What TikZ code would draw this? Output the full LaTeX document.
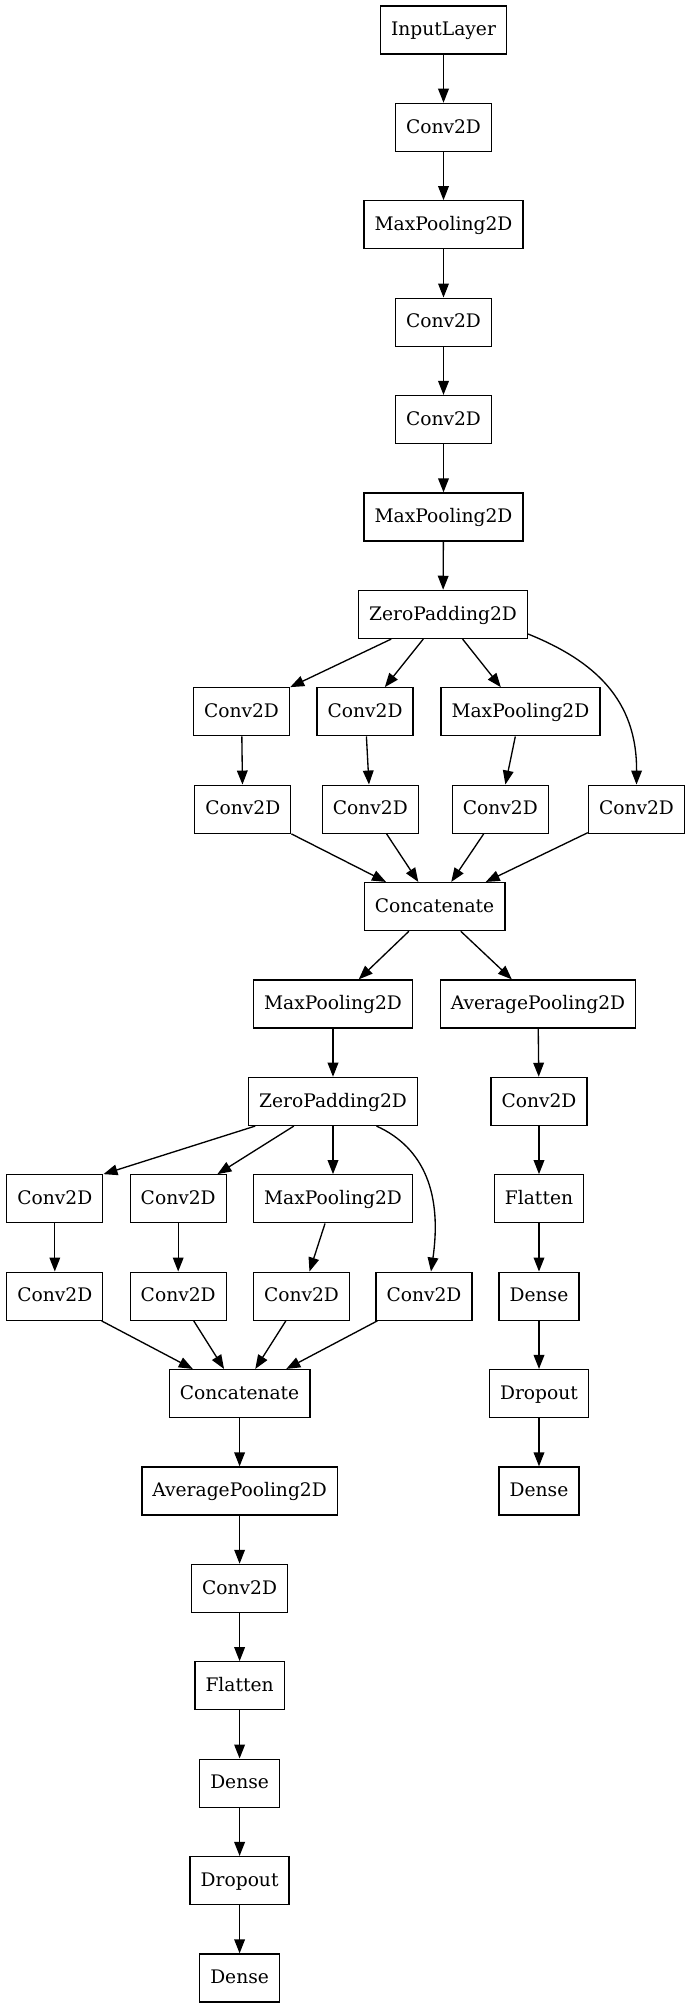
\documentclass[tikz,border=0pt]{standalone}
\usepackage{fontspec}
\setmainfont{DejaVu Serif}
\usetikzlibrary{arrows.meta,calc}

\begin{document}
\begin{tikzpicture}[x=0.75pt,y=-0.75pt,
        layer/.style={draw,line width=1pt,rectangle,minimum height=36pt,minimum width=54pt,
                      inner xsep=7.92pt,inner ysep=0pt,text height=11pt,text depth=2.4pt,
                      font=\fontsize{14pt}{16pt}\selectfont},
        link/.style={line width=1pt,-{Triangle[length=10.5pt,width=8pt]}}
    ]
    \useasboundingbox (0,0) rectangle (689,2007);

    % trunk
    \node[layer] (n-0-1) at (443.5,30)    {InputLayer};
    \node[layer] (n-1-1) at (443.5,127.4) {Conv2D};
    \node[layer] (n-2-1) at (443.5,224.8) {MaxPooling2D};
    \node[layer] (n-3-1) at (443.5,322.2) {Conv2D};
    \node[layer] (n-4-1) at (443.5,419.6) {Conv2D};
    \node[layer] (n-5-1) at (443.5,517)   {MaxPooling2D};
    \node[layer] (n-6-1) at (443,614.4)   {ZeroPadding2D};

    % first block
    \node[layer] (n-7-1) at (241.5,711.8) {Conv2D};
    \node[layer] (n-7-2) at (365.1,711.8) {Conv2D};
    \node[layer] (n-7-3) at (520.4,711.8) {MaxPooling2D};
    \node[layer] (n-8-1) at (242.8,809.2) {Conv2D};
    \node[layer] (n-8-2) at (370.3,809.2) {Conv2D};
    \node[layer] (n-8-3) at (500.3,809.2) {Conv2D};
    \node[layer] (n-8-4) at (636.5,809.2) {Conv2D};
    \node[layer] (n-9-1) at (434.6,906.6) {Concatenate};

    % side head
    \node[layer] (n-10-2) at (538,1004)   {AveragePooling2D};
    \node[layer] (n-11-2) at (539,1101.4) {Conv2D};
    \node[layer] (n-12-5) at (539,1198.8) {Flatten};
    \node[layer] (n-13-5) at (539,1296.2) {Dense};
    \node[layer] (n-14-2) at (539,1393.6) {Dropout};
    \node[layer] (n-15-2) at (539,1491)   {Dense};

    % second block
    \node[layer] (n-10-1) at (333,1004)    {MaxPooling2D};
    \node[layer] (n-11-1) at (333,1101.4)  {ZeroPadding2D};
    \node[layer] (n-12-1) at (54.8,1198.8) {Conv2D};
    \node[layer] (n-12-2) at (178.2,1198.8) {Conv2D};
    \node[layer] (n-12-3) at (333,1198.8)  {MaxPooling2D};
    \node[layer] (n-13-1) at (54.8,1296.2) {Conv2D};
    \node[layer] (n-13-2) at (178.2,1296.2) {Conv2D};
    \node[layer] (n-13-3) at (301.5,1296.2) {Conv2D};
    \node[layer] (n-13-4) at (424,1296.2)  {Conv2D};
    \node[layer] (n-14-1) at (239.6,1393.6) {Concatenate};

    % main head
    \node[layer] (n-15-1) at (239.6,1491)   {AveragePooling2D};
    \node[layer] (n-16-1) at (239.6,1588.4) {Conv2D};
    \node[layer] (n-17-1) at (239.6,1685.8) {Flatten};
    \node[layer] (n-18-1) at (239.6,1783.2) {Dense};
    \node[layer] (n-19-1) at (239.6,1880.6) {Dropout};
    \node[layer] (n-20-1) at (239.6,1978)   {Dense};

    \draw[link] (n-0-1) edge (n-1-1) (n-1-1) edge (n-2-1) (n-2-1) edge (n-3-1)
                (n-3-1) edge (n-4-1) (n-4-1) edge (n-5-1) (n-5-1) edge (n-6-1);
    \draw[link] (n-6-1) edge (n-7-1.north east) (n-6-1) edge (n-7-2) (n-6-1) edge (n-7-3)
                (n-7-1) edge (n-8-1) (n-7-2) edge (n-8-2) (n-7-3) edge (n-8-3);
    \draw[link] ($(n-6-1.east)+(0,19.6)$) .. controls (595,661) and (637,700) .. (n-8-4.north);
    \draw[link] (n-8-1) edge (n-9-1) (n-8-2) edge (n-9-1) (n-8-3) edge (n-9-1) (n-8-4) edge (n-9-1);
    \draw[link] (n-9-1) edge (n-10-1) (n-9-1) edge (n-10-2);
    \draw[link] (n-10-2) edge (n-11-2) (n-11-2) edge (n-12-5) (n-12-5) edge (n-13-5)
                (n-13-5) edge (n-14-2) (n-14-2) edge (n-15-2);
    \draw[link] (n-10-1) edge (n-11-1)
                (n-11-1) edge (n-12-1.north east) (n-11-1) edge (n-12-2) (n-11-1) edge (n-12-3)
                (n-12-1) edge (n-13-1) (n-12-2) edge (n-13-2) (n-12-3) edge (n-13-3);
    \draw[link] ($(n-11-1.south)+(43.5,0)$) .. controls (425,1148) and (442,1195) .. ($(n-13-4.north)+(7,0)$);
    \draw[link] (n-13-1) edge (n-14-1) (n-13-2) edge (n-14-1) (n-13-3) edge (n-14-1) (n-13-4) edge (n-14-1);
    \draw[link] (n-14-1) edge (n-15-1) (n-15-1) edge (n-16-1) (n-16-1) edge (n-17-1)
                (n-17-1) edge (n-18-1) (n-18-1) edge (n-19-1) (n-19-1) edge (n-20-1);
\end{tikzpicture}
\end{document}
